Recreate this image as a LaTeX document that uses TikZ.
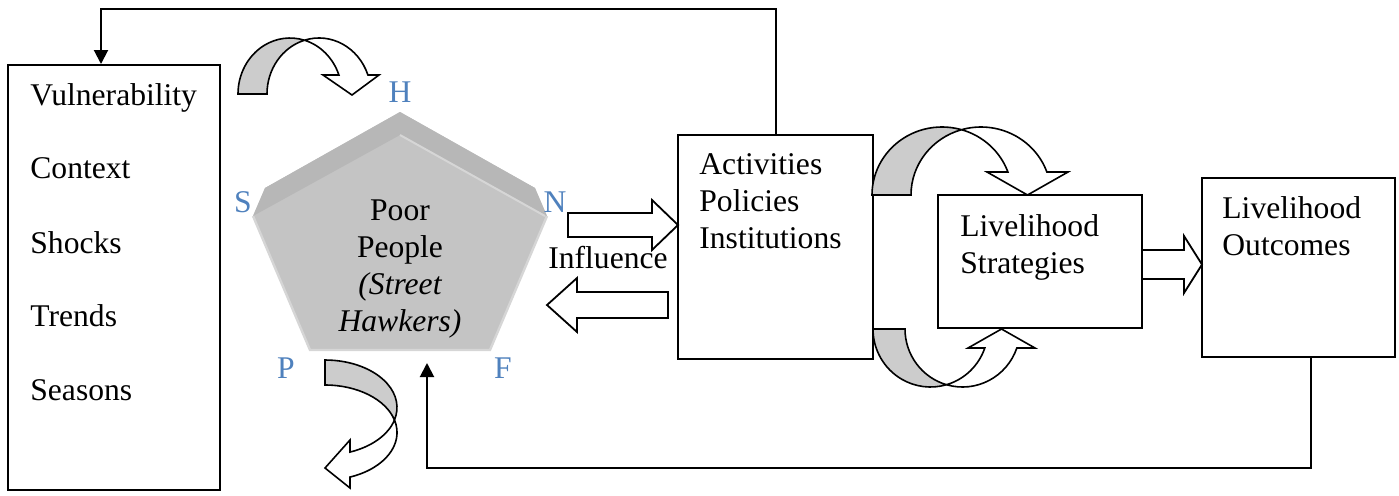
\documentclass[tikz,border=0pt]{standalone}
\usepackage{fontspec}
\setmainfont{Liberation Serif}
\usetikzlibrary{calc,arrows.meta}
\definecolor{hblue}{RGB}{79,129,189}
\definecolor{face}{RGB}{196,196,196}
\definecolor{bevel}{RGB}{183,183,183}
\definecolor{edgelight}{RGB}{214,214,214}
\definecolor{band}{RGB}{204,204,204}
\begin{document}
\begin{tikzpicture}[x=0.5pt,y=-0.5pt,
  box/.style={draw,line width=1pt,inner sep=0pt},
  lbl/.style={font=\fontsize{15.8}{18}\selectfont,inner sep=0pt,anchor=base west},
  ctr/.style={font=\fontsize{15.8}{18}\selectfont,inner sep=0pt,anchor=base},
  corner/.style={ctr,text=hblue},
  conn/.style={line width=1pt,-{Triangle[width=7pt,length=7pt]}},
  blk/.style={draw,fill=white,line width=0.9pt,line join=miter},
  cband/.style={draw,fill=band,line width=0.8pt},
  cfront/.style={draw,fill=white,line width=0.8pt,line join=miter}]
\useasboundingbox (0,0) rectangle (1399,495);

% ---- boxes ----
\node[box,minimum width=106pt,minimum height=212.5pt] (vuln) at (114,277.5) {};
\node[box,minimum width=97.5pt,minimum height=112pt] (act) at (775.5,247) {};
\node[box,minimum width=102pt,minimum height=66.5pt] (strat) at (1040,261.5) {};
\node[box,minimum width=96.5pt,minimum height=89.5pt] (outc) at (1298.5,267.5) {};

% ---- box texts ----
\node[lbl] (v1) at (30,105) {Vulnerability};
\node[lbl] (v2) at (30,178) {Context};
\node[lbl] (v3) at (30,253) {Shocks};
\node[lbl] (v4) at (30,326) {Trends};
\node[lbl] (v5) at (30,400) {Seasons};
\node[lbl] (a1) at (699,174) {Activities};
\node[lbl] (a2) at (699,211) {Policies};
\node[lbl] (a3) at (699,248) {Institutions};
\node[lbl] (s1) at (960,236) {Livelihood};
\node[lbl] (s2) at (960,273) {Strategies};
\node[lbl] (o1) at (1222,218) {Livelihood};
\node[lbl] (o2) at (1222,255) {Outcomes};

% ---- pentagon ----
\coordinate (pent) at (400,240);
\fill[face] (400,112) -- (535,188) -- (547,216) -- (490,350) -- (310,350) -- (253,216) -- (265,188) -- cycle;
\fill[bevel] (253,216) -- (265,188) -- (400,112) -- (535,188) -- (547,216) -- (400,135) -- cycle;
\draw[edgelight,line width=1pt] (400,135) -- (545,216);
\draw[edgelight,line width=1.2pt] (547,216) -- (490,350) -- (310,350) -- (253,216);
\node[ctr] (p1) at (400,220) {Poor};
\node[ctr] (p2) at (400,257) {People};
\node[ctr] (p3) at (400,294) {\itshape (Street};
\node[ctr] (p4) at (400,331) {\itshape Hawkers)};
\node[corner] (cH) at (400,102) {H};
\node[corner] (cS) at (243,212) {S};
\node[corner] (cN) at (555,212) {N};
\node[corner] (cP) at (286,378) {P};
\node[corner] (cF) at (503,378) {F};

% ---- line connectors ----
\coordinate (tl) at (101,9);
\draw[conn] (act.north) |- (tl) -- (tl |- vuln.north);
\coordinate (bl) at (427,468);
\coordinate (bs) at ($(outc.south)+(12.5,0)$);
\coordinate (btip) at (427,363);
\draw[conn] (bs) |- (bl) -- (btip);

% ---- block arrows ----
\draw[blk] (568,213) -- (652,213) -- (652,200) -- (678,225) -- (652,250) -- (652,237) -- (568,237) -- cycle;
\node[ctr] (infl) at (608,268) {Influence};
\draw[blk] (668,292) -- (577,292) -- (577,278) -- (547,305) -- (577,332) -- (577,318) -- (668,318) -- cycle;
\draw[blk] (1142,250) -- (1184,250) -- (1184,236) -- (1202,264.5) -- (1184,293) -- (1184,279) -- (1142,279) -- cycle;

% ---- curved arrow above pentagon ----
\filldraw[cband] (238,94) arc[start angle=180,end angle=286.19,x radius=52,y radius=56]
  arc[start angle=253.81,end angle=180,x radius=52,y radius=56] -- cycle;
\filldraw[cfront] (304.5,40.2) arc[start angle=253.81,end angle=340.2,x radius=52,y radius=56]
  -- (379,75) -- (352,95) -- (323,75) -- (338.9,75)
  arc[start angle=340.2,end angle=286.19,x radius=52,y radius=56] -- cycle;

% ---- curved arrow top (activities -> strategies) ----
\filldraw[cband] (872,195) arc[start angle=180,end angle=286.18,x radius=70,y radius=68]
  arc[start angle=253.82,end angle=180,x radius=70,y radius=68] -- cycle;
\filldraw[cfront] (961.5,129.7) arc[start angle=253.82,end angle=340.23,x radius=70,y radius=68]
  -- (1068,172) -- (1027.5,195) -- (987,172) -- (1007.9,172)
  arc[start angle=340.23,end angle=286.18,x radius=70,y radius=68] -- cycle;

% ---- curved arrow bottom (activities -> strategies) ----
\filldraw[cband] (873,329) arc[start angle=180,end angle=73.84,x radius=57.5,y radius=58]
  arc[start angle=106.16,end angle=180,x radius=57.5,y radius=58] -- cycle;
\filldraw[cfront] (946.5,384.7) arc[start angle=106.16,end angle=19.12,x radius=57.5,y radius=58]
  -- (1035,348) -- (1001.5,329) -- (968,348) -- (984.8,348)
  arc[start angle=19.12,end angle=73.84,x radius=57.5,y radius=58] -- cycle;

% ---- curved arrow below pentagon ----
\filldraw[cband] (325,360) arc[start angle=-90,end angle=15.26,x radius=72,y radius=47.5]
  arc[start angle=-15.26,end angle=-90,x radius=72,y radius=47.5] -- cycle;
\filldraw[cfront] (394.5,420) arc[start angle=-15.26,end angle=69.68,x radius=72,y radius=47.5]
  -- (350,488) -- (325,468) -- (350,440) -- (350,452.05)
  arc[start angle=69.68,end angle=15.26,x radius=72,y radius=47.5] -- cycle;
\end{tikzpicture}
\end{document}
